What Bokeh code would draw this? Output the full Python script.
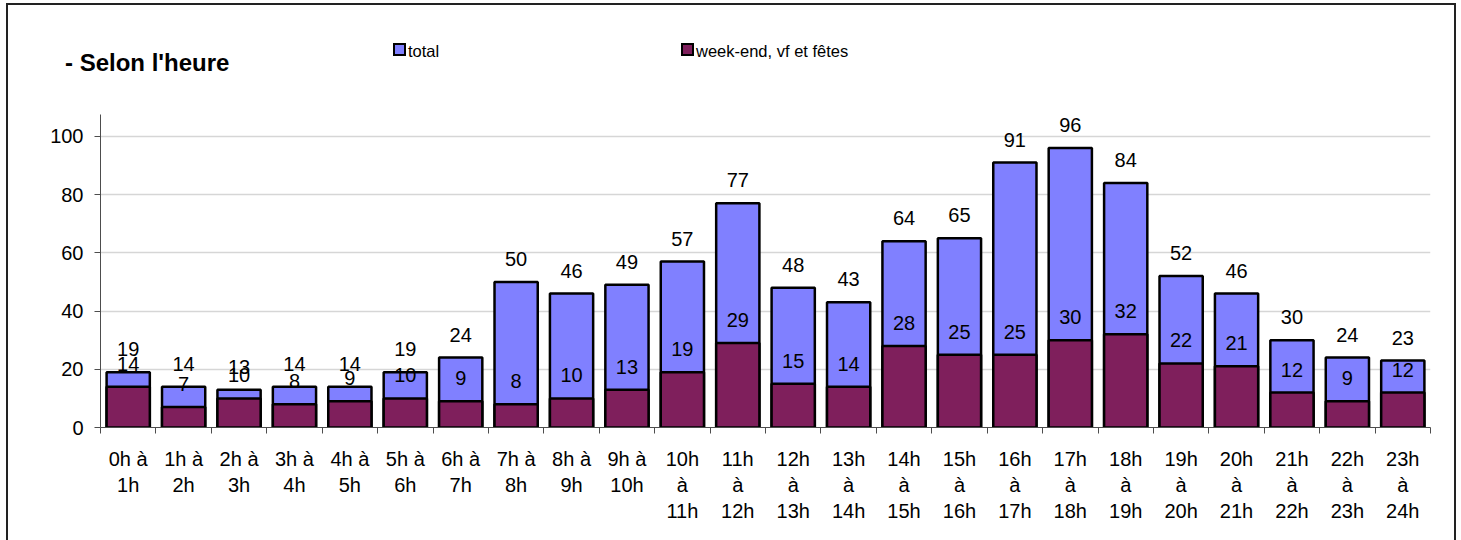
from bokeh.plotting import figure
from bokeh.models import (ColumnDataSource, FixedTicker, LabelSet, Range1d, Column, Div)
from bokeh.core.properties import value
from bokeh.embed import file_html
from bokeh.resources import INLINE

hours = ["0h à\n1h", "1h à\n2h", "2h à\n3h", "3h à\n4h", "4h à\n5h", "5h à\n6h", "6h à\n7h",
         "7h à\n8h", "8h à\n9h", "9h à\n10h", "10h\nà\n11h", "11h\nà\n12h", "12h\nà\n13h",
         "13h\nà\n14h", "14h\nà\n15h", "15h\nà\n16h", "16h\nà\n17h", "17h\nà\n18h",
         "18h\nà\n19h", "19h\nà\n20h", "20h\nà\n21h", "21h\nà\n22h", "22h\nà\n23h", "23h\nà\n24h"]
total = [19, 14, 13, 14, 14, 19, 24, 50, 46, 49, 57, 77, 48, 43, 64, 65, 91, 96, 84, 52, 46, 30, 24, 23]
weekend = [14, 7, 10, 8, 9, 10, 9, 8, 10, 13, 19, 29, 15, 14, 28, 25, 25, 30, 32, 22, 21, 12, 9, 12]
y_ticks = [0, 20, 40, 60, 80, 100]
series_names = ["total", "week-end, vf et fêtes"]
title_text = "- Selon l'heure"

BLUE = "#8080FF"
PURPLE = "#7F1F5C"
FONT = "Liberation Sans"
AXIS = "#4D4D4D"
BORDER = "#222222"

W = 1446  # content width inside the outer border

# ---------- header (title + legend) as HTML ----------
def legend_item(left, color, name):
    return (f'<div style="position:absolute;left:{left}px;top:38px;width:13px;height:13px;'
            f'box-sizing:border-box;border:2px solid black;background:{color};"></div>'
            f'<div style="position:absolute;left:{left + 15}px;top:37px;font-size:16.5px;'
            f'line-height:19px;color:black;white-space:nowrap;">{name}</div>')

hdr_html = (f'<div style="position:relative;width:{W}px;height:100px;font-family:\'{FONT}\';">'
            f'<div style="position:absolute;left:57px;top:45px;font-size:24px;font-weight:bold;'
            f'line-height:26px;color:black;white-space:nowrap;">{title_text}</div>'
            + legend_item(385, BLUE, series_names[0])
            + legend_item(673, PURPLE, series_names[1])
            + '</div>')
hdr = Div(text=hdr_html, width=W, height=100, margin=0,
          styles={"background-color": "white"})

# ---------- main chart ----------
xs = [i + 0.5 for i in range(len(hours))]
src = ColumnDataSource(dict(x=xs, total=total, weekend=weekend,
                            tl=[str(v) for v in total], wl=[str(v) for v in weekend]))

p = figure(width=W, height=435, output_backend="svg", toolbar_location=None,
           x_range=Range1d(0, len(hours)), y_range=Range1d(0, 107.5),
           min_border_left=92, min_border_right=24, min_border_top=9, min_border_bottom=113)
p.outline_line_color = None

p.vbar(x="x", top="total", width=0.78, source=src, fill_color=BLUE,
       line_color="black", line_width=2.5)
p.vbar(x="x", top="weekend", width=0.78, source=src, fill_color=PURPLE,
       line_color="black", line_width=2.5)

for col, lab in (("total", "tl"), ("weekend", "wl")):
    p.add_layout(LabelSet(x="x", y=col, text=lab, source=src, text_align="center",
                          text_baseline="middle", y_offset=23, text_font=value(FONT),
                          text_font_size="20px", text_color="black"))

p.xaxis.ticker = FixedTicker(ticks=xs, minor_ticks=list(range(len(hours) + 1)))
p.xaxis.major_label_overrides = {x: h for x, h in zip(xs, hours)}
p.xaxis.major_tick_out = 0
p.xaxis.major_tick_in = 0
p.xaxis.minor_tick_out = 6
p.xaxis.minor_tick_in = 0
p.xaxis.minor_tick_line_color = AXIS
p.xaxis.axis_line_color = AXIS
p.xaxis.major_label_text_font = FONT
p.xaxis.major_label_text_font_size = "20px"
p.xaxis.major_label_text_color = "black"
p.xaxis.major_label_text_line_height = 1.2
p.xaxis.major_label_standoff = 14
p.xaxis.major_label_orientation = "horizontal"

p.yaxis.ticker = FixedTicker(ticks=y_ticks)
p.yaxis.minor_tick_line_color = None
p.yaxis.major_tick_out = 6
p.yaxis.major_tick_in = 0
p.yaxis.axis_line_color = AXIS
p.yaxis.major_tick_line_color = AXIS
p.yaxis.major_label_text_font = FONT
p.yaxis.major_label_text_font_size = "20px"
p.yaxis.major_label_text_color = "black"
p.yaxis.major_label_standoff = 11

p.xgrid.grid_line_color = None
p.ygrid.grid_line_color = "#D6D6D6"
p.ygrid.grid_line_width = 1.5
p.ygrid.ticker = FixedTicker(ticks=y_ticks[1:])

layout = Column(children=[hdr, p], spacing=0,
                styles={"border-top": f"2px solid {BORDER}", "border-left": f"2px solid {BORDER}",
                        "border-right": f"2px solid {BORDER}", "margin-left": "6px",
                        "margin-top": "3px", "background-color": "white"})

open("out.html", "w").write(file_html(layout, INLINE))
